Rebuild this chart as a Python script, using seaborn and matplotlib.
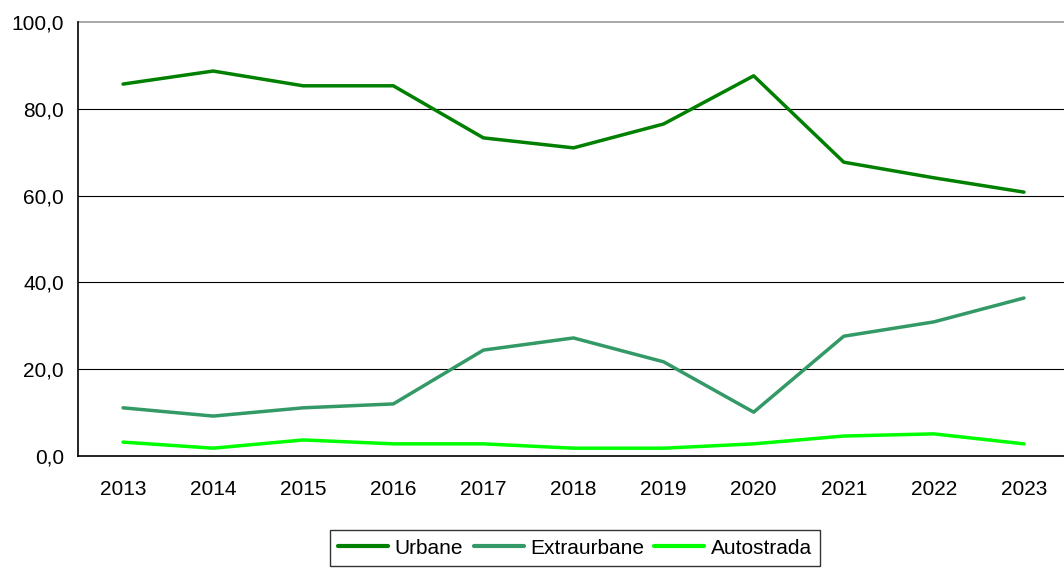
import numpy as np
import pandas as pd
import seaborn as sns
import matplotlib.pyplot as plt
from matplotlib.ticker import FixedLocator, FuncFormatter

years = ["2013", "2014", "2015", "2016", "2017", "2018", "2019", "2020", "2021", "2022", "2023"]
urbane = [85.7, 88.7, 85.3, 85.3, 73.3, 71.0, 76.5, 87.6, 67.7, 64.1, 60.8]
extraurbane = [11.1, 9.2, 11.1, 12.0, 24.4, 27.2, 21.7, 10.1, 27.6, 30.9, 36.4]
autostrada = [3.2, 1.8, 3.7, 2.8, 2.8, 1.8, 1.8, 2.8, 4.6, 5.1, 2.8]

series = {"Urbane": urbane, "Extraurbane": extraurbane, "Autostrada": autostrada}
palette = {"Urbane": "#008000", "Extraurbane": "#339966", "Autostrada": "#00FF00"}

df = pd.concat(
    [pd.DataFrame({"pos": np.arange(len(years)), "valore": v, "serie": k}) for k, v in series.items()],
    ignore_index=True,
)

sns.set_style("white")
plt.rcParams["font.family"] = ["Liberation Sans", "DejaVu Sans"]
plt.rcParams["text.color"] = "black"
plt.rcParams["xtick.color"] = "black"
plt.rcParams["ytick.color"] = "black"

fig = plt.figure(figsize=(10.64, 5.7), dpi=100)
ax = fig.add_axes([78 / 1064, 1 - 456 / 570, (1069 - 78) / 1064, (456 - 22) / 570])

sns.lineplot(data=df, x="pos", y="valore", hue="serie", palette=palette,
             linewidth=2.5, ax=ax, legend=False)

ax.set_xlim(-0.5, len(years) - 0.5)
ax.set_ylim(0, 100)
ax.set_yticks([0, 20, 40, 60, 80, 100])
ax.yaxis.set_major_formatter(FuncFormatter(lambda v, p: f"{v:.1f}".replace(".", ",")))
ax.set_xticks(np.arange(len(years)))
ax.set_xticklabels(years)
ax.xaxis.set_minor_locator(FixedLocator(np.arange(-0.5, len(years), 1.0)))
ax.tick_params(axis="x", which="major", length=0, pad=17, labelsize=15)
ax.tick_params(axis="x", which="minor", length=6, width=1, color="black", direction="out")
ax.tick_params(axis="y", length=6, width=1, color="black", direction="out", labelsize=15, pad=4)
ax.set_xlabel("")
ax.set_ylabel("")

for y in [20, 40, 60, 80]:
    ax.axhline(y, color="black", linewidth=0.8, zorder=0)
ax.axhline(100, color="#999999", linewidth=1.2, zorder=0, clip_on=False)

ax.spines["left"].set_color("black")
ax.spines["left"].set_linewidth(1.2)
ax.spines["bottom"].set_color("black")
ax.spines["bottom"].set_linewidth(1.2)
ax.spines["right"].set_visible(False)
ax.spines["top"].set_visible(False)

handles = [plt.Line2D([], [], color=palette[k], linewidth=3) for k in series]
leg = fig.legend(handles, list(series.keys()), loc="center", bbox_to_anchor=(575 / 1064, 1 - 548 / 570),
                 ncol=3, frameon=True, fancybox=False, fontsize=15, handlelength=2.4,
                 handletextpad=0.3, columnspacing=0.5, borderpad=0.4, borderaxespad=0)
leg.get_frame().set_edgecolor("black")
leg.get_frame().set_linewidth(1)

fig.savefig("out.png", dpi=100)
